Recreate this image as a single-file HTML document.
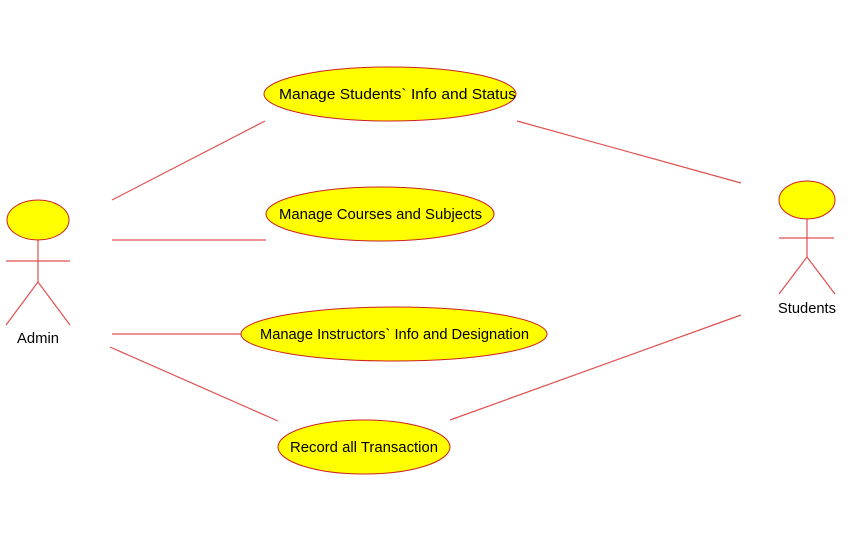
<!DOCTYPE html>
<html><head><style>body{margin:0;background:#fff}svg{display:block}text{font-family:"Liberation Sans",Arial,sans-serif;font-size:14.5px;fill:#000}</style></head>
<body>
<svg width="856" height="537" viewBox="0 0 856 537">
<g stroke="#e05050" stroke-width="1.2" fill="none">
<line x1="112" y1="200" x2="265" y2="121"/>
<line x1="112" y1="240" x2="266" y2="240"/>
<line x1="112" y1="334" x2="242" y2="334"/>
<line x1="110" y1="347" x2="278" y2="421"/>
<line x1="517" y1="121" x2="741" y2="183"/>
<line x1="450" y1="420" x2="741" y2="315"/>
<line x1="6" y1="261" x2="70" y2="261"/>
<line x1="38" y1="240" x2="38" y2="282"/>
<polyline points="6,325 38,282 70,325"/>
<line x1="779" y1="238" x2="834" y2="238"/>
<line x1="807" y1="219" x2="807" y2="257"/>
<polyline points="779,294 807,257 835,294"/>
</g>
<g fill="#ffff00" stroke="#cc2020" stroke-width="1">
<ellipse cx="38" cy="220" rx="31" ry="20"/>
<ellipse cx="807" cy="200" rx="28" ry="19"/>
<ellipse cx="390" cy="94" rx="126" ry="27"/>
<ellipse cx="380" cy="214" rx="114" ry="27"/>
<ellipse cx="394" cy="334" rx="153" ry="27"/>
<ellipse cx="364" cy="447" rx="86" ry="27"/>
</g>
<g>
<text x="279" y="99" textLength="237" lengthAdjust="spacingAndGlyphs">Manage Students` Info and Status</text>
<text x="279" y="219" textLength="203" lengthAdjust="spacingAndGlyphs">Manage Courses and Subjects</text>
<text x="260" y="339" textLength="269" lengthAdjust="spacingAndGlyphs">Manage Instructors` Info and Designation</text>
<text x="290" y="452" textLength="148" lengthAdjust="spacingAndGlyphs">Record all Transaction</text>
<text x="17" y="343" textLength="42" lengthAdjust="spacingAndGlyphs">Admin</text>
<text x="778" y="313" textLength="58" lengthAdjust="spacingAndGlyphs">Students</text>
</g>
</svg>
</body></html>
